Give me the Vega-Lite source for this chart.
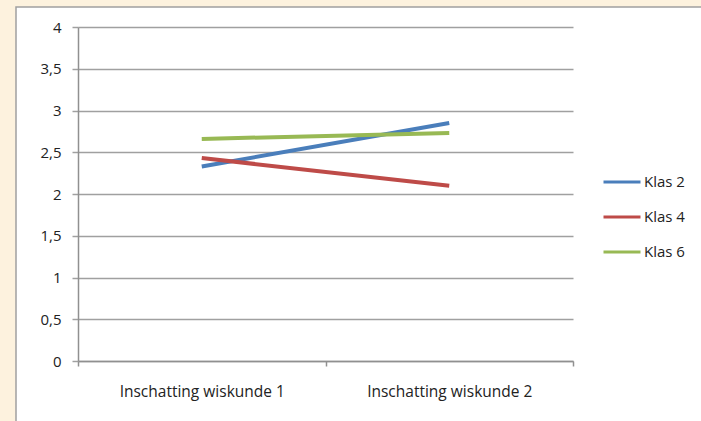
{
  "$schema": "https://vega.github.io/schema/vega-lite/v6.json",
  "autosize": {"type": "none"},
  "padding": {"left": 16, "top": 7, "right": 0, "bottom": 0},
  "width": 686,
  "height": 416,
  "background": "#FDF2DE",
  "view": {"fill": "white", "stroke": "#A0A0A0", "strokeWidth": 1.5},
  "config": {
    "font": "Open Sans",
    "axis": {"labelFont": "Open Sans", "labelColor": "#222222", "labelFontSize": 15},
    "legend": {"labelFont": "Open Sans", "labelColor": "#222222", "labelFontSize": 15}
  },
  "data": {
    "values": [
      {"meting": "Inschatting wiskunde 1", "klas": "Klas 2", "score": 2.33},
      {"meting": "Inschatting wiskunde 2", "klas": "Klas 2", "score": 2.85},
      {"meting": "Inschatting wiskunde 1", "klas": "Klas 4", "score": 2.43},
      {"meting": "Inschatting wiskunde 2", "klas": "Klas 4", "score": 2.10},
      {"meting": "Inschatting wiskunde 1", "klas": "Klas 6", "score": 2.66},
      {"meting": "Inschatting wiskunde 2", "klas": "Klas 6", "score": 2.73}
    ]
  },
  "mark": {"type": "line", "strokeWidth": 4},
  "encoding": {
    "x": {
      "field": "meting",
      "type": "nominal",
      "sort": null,
      "bandPosition": 0.5,
      "scale": {"type": "band", "range": [62, 557], "paddingInner": 0, "paddingOuter": 0},
      "axis": {
        "title": null,
        "offset": -62,
        "labelAngle": 0,
        "labelFontSize": 15.5,
        "tickBand": "extent",
        "tickSize": 5,
        "tickColor": "#909090",
        "tickWidth": 1.5,
        "domainColor": "#909090",
        "domainWidth": 1.5,
        "labelPadding": 18,
        "grid": false
      }
    },
    "y": {
      "field": "score",
      "type": "quantitative",
      "scale": {"domain": [0, 4], "range": [354, 20], "nice": false},
      "axis": {
        "title": null,
        "offset": -62,
        "values": [0, 0.5, 1, 1.5, 2, 2.5, 3, 3.5, 4],
        "format": "~g",
        "labelExpr": "replace(datum.label, '.', ',')",
        "tickSize": 6,
        "tickColor": "#A0A0A0",
        "tickWidth": 1.5,
        "domainColor": "#909090",
        "domainWidth": 1.5,
        "grid": true,
        "gridColor": "#A0A0A0",
        "gridWidth": 1.5,
        "labelPadding": 11
      }
    },
    "color": {
      "field": "klas",
      "type": "nominal",
      "scale": {"domain": ["Klas 2", "Klas 4", "Klas 6"], "range": ["#4A7EBB", "#BE4B48", "#98B954"]},
      "legend": {
        "title": null,
        "orient": "none",
        "legendX": 586,
        "legendY": 155,
        "symbolType": "stroke",
        "symbolSize": 1369,
        "symbolStrokeWidth": 3,
        "labelOffset": 2,
        "rowPadding": 7
      }
    }
  }
}
